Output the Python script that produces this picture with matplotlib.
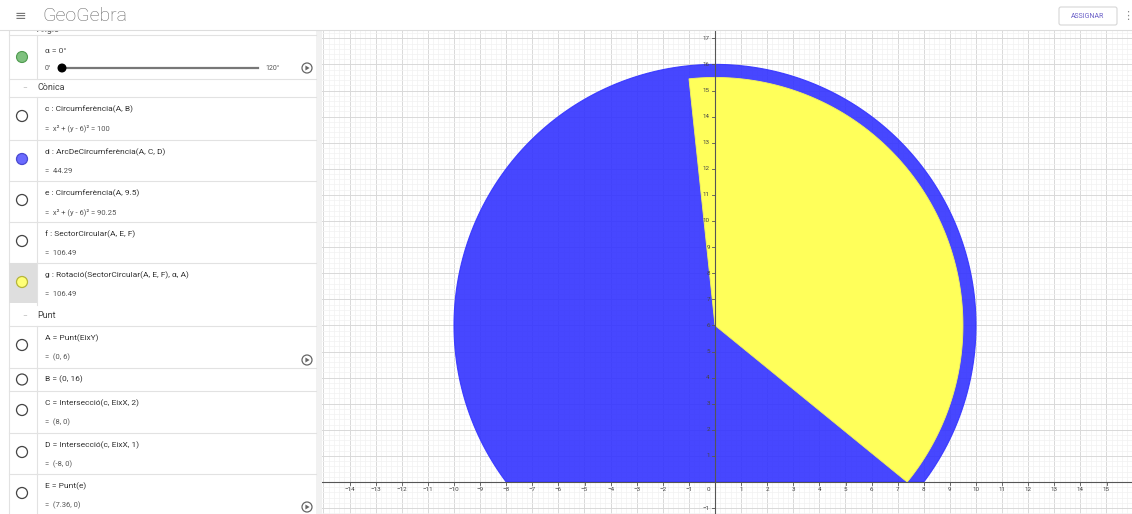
import numpy as np
import matplotlib
matplotlib.use("Agg")
import matplotlib.pyplot as plt
from matplotlib.patches import Circle, Rectangle, Polygon, FancyBboxPatch

plt.rcParams["font.family"] = ["Roboto", "DejaVu Sans"]

# construction values (read from the algebra view)
alpha_deg = 0.0
A = (0.0, 6.0)
B = (0.0, 16.0)
C = (8.0, 0.0)
D = (-8.0, 0.0)
E = (7.36, 0.0)
r_e = 9.5
sector_area = 106.49

x_ticks = list(range(-14, 16))
y_ticks = list(range(-1, 18))

row_labels = [
    "c : Circumferència(A, B)",
    "d : ArcDeCircumferència(A, C, D)",
    "e : Circumferència(A, 9.5)",
    "f : SectorCircular(A, E, F)",
    "g : Rotació(SectorCircular(A, E, F), α, A)",
    "A = Punt(EixY)",
    "B = (0, 16)",
    "C = Intersecció(c, EixX, 2)",
    "D = Intersecció(c, EixX, 1)",
    "E = Punt(e)",
]
row_values = ["=  x² + (y - 6)² = 100", "=  44.29", "=  x² + (y - 6)² = 90.25",
              "=  106.49", "=  106.49", "=  (0, 6)", None, "=  (8, 0)",
              "=  (-8, 0)", "=  (7.36, 0)"]

# layout of the algebra panel (pixels)
row_tops = [97, 140, 181, 222, 263, 326, 368, 391, 433, 474]
row_bots = [140, 181, 222, 263, 305, 368, 391, 433, 474, 516]
icon_fill = [None, "#6a6aff", None, None, "#ffff77", None, None, None, None, None]
icon_edge = ["#444444", "#4a4ad0", "#444444", "#444444", "#b5b53a",
             "#444444", "#444444", "#444444", "#444444", "#444444"]

W, H = 1132, 514
fig = plt.figure(figsize=(W / 100, H / 100), dpi=100)
fig.patch.set_facecolor("white")

# ---------------- graphics view ----------------
gx0, gy_top = 322, 30
scale = 26.1
ox, oy = 715, 482
ax = fig.add_axes([gx0 / W, 0, (W - gx0) / W, (H - gy_top) / H])
ax.set_xlim((gx0 - ox) / scale, (W - ox) / scale)
ax.set_ylim((oy - H) / scale, (oy - gy_top) / scale)
ax.set_axis_off()

xmin, xmax = ax.get_xlim()
ymin, ymax = ax.get_ylim()
for v in np.arange(np.floor(xmin), xmax, 0.2):
    major = abs(v - round(v)) < 1e-6
    ax.axvline(v, color="#d9d9d9" if major else "#f2f2f2", lw=0.7 if major else 0.5, zorder=0)
for v in np.arange(np.floor(ymin), ymax, 0.2):
    major = abs(v - round(v)) < 1e-6
    ax.axhline(v, color="#d9d9d9" if major else "#f2f2f2", lw=0.7 if major else 0.5, zorder=0)

# circle c through B, arc from C to D (filled circular segment)
r_c = np.hypot(B[0] - A[0], B[1] - A[1])
t0 = np.arctan2(C[1] - A[1], C[0] - A[0])
t1 = np.arctan2(D[1] - A[1], D[0] - A[0])
if t1 < t0:
    t1 += 2 * np.pi
t = np.linspace(t0, t1, 400)
seg = np.column_stack([A[0] + r_c * np.cos(t), A[1] + r_c * np.sin(t)])
ax.add_patch(Polygon(seg, closed=True, facecolor="#3333ff", edgecolor="#3333ff",
                     lw=0.8, alpha=0.9, zorder=2))

# sector f from E, rotated by alpha
ang = 2 * sector_area / r_e ** 2
s0 = np.arctan2(E[1] - A[1], E[0] - A[0]) + np.radians(alpha_deg)
t = np.linspace(s0, s0 + ang, 300)
sec = np.vstack([[A], np.column_stack([A[0] + r_e * np.cos(t), A[1] + r_e * np.sin(t)])])
ax.add_patch(Polygon(sec, closed=True, facecolor="#ffff5a", edgecolor="#f4f45a",
                     lw=0.6, zorder=3))

# axes
ax.axhline(0, color="#555555", lw=0.8, zorder=4)
ax.axvline(0, color="#555555", lw=0.8, zorder=4)
tk = 3 / scale
for v in x_ticks:
    ax.plot([v, v], [0, -tk], color="#555555", lw=0.6, zorder=4)
    if v != 0:
        ax.text(v, -0.2, f"{v}".replace("-", "−"), fontsize=4.5, color="#444444",
                ha="center", va="top", zorder=5)
for v in y_ticks:
    ax.plot([0, -tk], [v, v], color="#555555", lw=0.6, zorder=4)
    if v != 0:
        ax.text(-0.2, v, f"{v}".replace("-", "−"), fontsize=4.5, color="#444444",
                ha="right", va="center", zorder=5)
ax.text(-0.2, -0.2, "0", fontsize=4.5, color="#444444", ha="right", va="top", zorder=5)

# ---------------- UI overlay ----------------
ui = fig.add_axes([0, 0, 1, 1])
ui.set_xlim(0, W)
ui.set_ylim(H, 0)
ui.set_axis_off()
ui.patch.set_visible(False)

# panel
ui.add_patch(Rectangle((0, 30), 321, H - 30, facecolor="white", edgecolor="none", zorder=0))
ui.add_patch(Rectangle((316, 30), 6, H - 30, facecolor="#f1f1f1", edgecolor="none", zorder=1))
ui.plot([9, 9], [30, H], color="#e2e2e2", lw=0.8, zorder=1)

ui.text(37, 30, "Angle", fontsize=6.5, color="#555555", va="center", zorder=1)

# slider row
ui.plot([9, 316], [35, 35], color="#e2e2e2", lw=0.8)
ui.plot([9, 316], [79, 79], color="#e2e2e2", lw=0.8)
ui.plot([37, 37], [35, 79], color="#e2e2e2", lw=0.8)
ui.add_patch(Circle((22, 57), 5.5, facecolor="#7fc17f", edgecolor="#4f9a4f", lw=0.8, zorder=3))
ui.text(45, 51, f"α = {alpha_deg:.0f}°", fontsize=6, color="#444444", va="center")
ui.text(45, 68, "0°", fontsize=5, color="#555555", va="center")
ui.plot([62, 258], [68, 68], color="#777777", lw=1.6, zorder=2)
ui.add_patch(Circle((62, 68), 3.8, facecolor="black", edgecolor="black", zorder=3))
ui.text(265, 68, "120°", fontsize=5, color="#555555", va="center")


def play(x, y):
    ui.add_patch(Circle((x, y), 5, facecolor="none", edgecolor="#666666", lw=0.9, zorder=3))
    ui.add_patch(Polygon([(x - 1.6, y - 2.5), (x - 1.6, y + 2.5), (x + 2.6, y)],
                         closed=True, facecolor="#666666", edgecolor="none", zorder=3))


play(307, 68)

for hy, name in [(87, "Cònica"), (315, "Punt")]:
    ui.text(22, hy, "−", fontsize=6, color="#bbbbbb", va="center")
    ui.text(37, hy, name, fontsize=6.5, color="#444444", va="center")

for i, (lab, val) in enumerate(zip(row_labels, row_values)):
    top, bot = row_tops[i], row_bots[i]
    ui.plot([9, 316], [top, top], color="#e2e2e2", lw=0.8, zorder=1)
    ui.plot([37, 37], [top, bot], color="#e2e2e2", lw=0.8, zorder=1)
    if i == 4:
        ui.add_patch(Rectangle((9, top), 28, bot - top - 2, facecolor="#dedede",
                               edgecolor="none", zorder=1))
    if val is None:
        cy = (top + bot) / 2
        ui.text(45, cy, lab, fontsize=6, color="#333333", va="center")
    else:
        cy = top + 19
        ui.text(45, top + 12, lab, fontsize=6, color="#333333", va="center")
        ui.text(45, top + 31, val, fontsize=5.5, color="#555555", va="center")
    ui.add_patch(Circle((22, cy), 5.5, facecolor=icon_fill[i] or "white",
                        edgecolor=icon_edge[i], lw=0.9, zorder=3))

play(307, 360)
play(307, 507)

# top bar
ui.add_patch(Rectangle((0, 0), W, 30, facecolor="white", edgecolor="none", zorder=6))
ui.plot([0, W], [30, 30], color="#dddddd", lw=0.8, zorder=7)
ui.text(20, 16, "≡", fontsize=10, color="#777777", ha="center", va="center", zorder=7)
ui.text(42, 16, "GeoGebra", fontsize=14, color="#666666", va="center",
        fontweight="light", zorder=7)
ui.add_patch(FancyBboxPatch((1059, 7), 58, 18, boxstyle="round,pad=0,rounding_size=2",
                            facecolor="white", edgecolor="#d6d6d6", lw=0.8, zorder=7))
ui.text(1088, 16, "ASSIGNAR", fontsize=5, color="#6a5fc8", ha="center", va="center", zorder=8)
ui.text(1128, 16, "⋮", fontsize=8, color="#888888", ha="center", va="center", zorder=8)

fig.savefig("out.png", dpi=100)
